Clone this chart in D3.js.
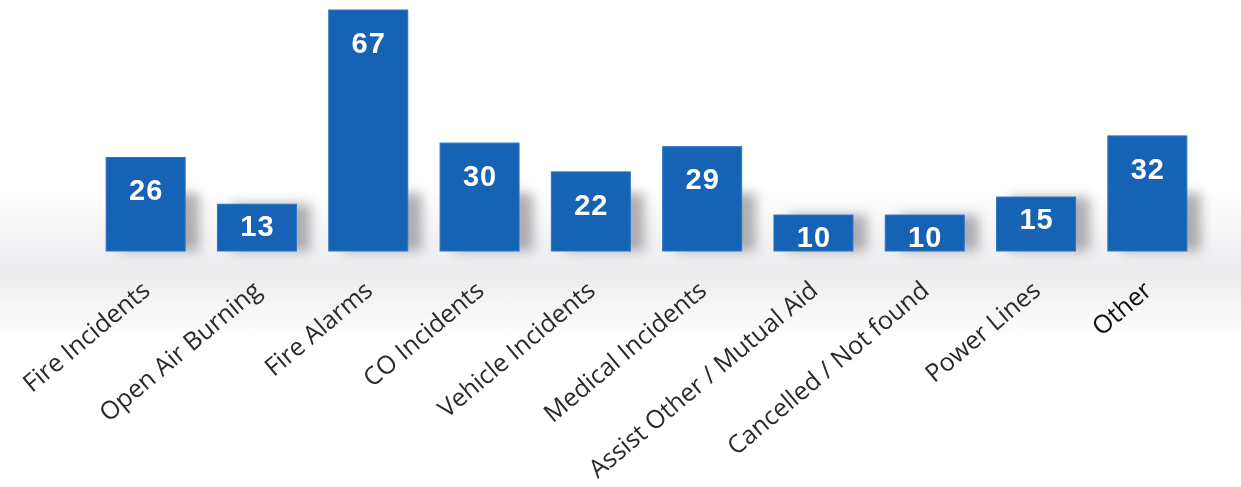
<!DOCTYPE html>
<html>
<head>
<meta charset="utf-8">
<script src="https://cdn.jsdelivr.net/npm/d3@7"></script>
<style>
  html, body { margin: 0; padding: 0; background: #ffffff; }
  svg { display: block; }
</style>
</head>
<body>
<svg id="chart" width="1241" height="487"></svg>
<script>
// Incident counts by call type
const categories = [
  "Fire Incidents", "Open Air Burning", "Fire Alarms", "CO Incidents",
  "Vehicle Incidents", "Medical Incidents", "Assist Other / Mutual Aid",
  "Cancelled / Not found", "Power Lines", "Other"
];
const counts = [26, 13, 67, 30, 22, 29, 10, 10, 15, 32];

const W = 1241, H = 487;
const baseline = 251, plotTop = 10;

const svg = d3.select("#chart");
const defs = svg.append("defs");

// soft grey floor band under the bars
const floor = defs.append("linearGradient")
  .attr("id", "floor").attr("x1", 0).attr("y1", 0).attr("x2", 0).attr("y2", 1);
floor.append("stop").attr("offset", "0%").attr("stop-color", "#ffffff");
floor.append("stop").attr("offset", "35%").attr("stop-color", "#f2f2f4");
floor.append("stop").attr("offset", "55%").attr("stop-color", "#ececee");
floor.append("stop").attr("offset", "100%").attr("stop-color", "#ffffff");

const blur = defs.append("filter").attr("id", "shadowBlur")
  .attr("x", "-50%").attr("y", "-50%").attr("width", "200%").attr("height", "200%");
blur.append("feGaussianBlur").attr("stdDeviation", 6);

const soft = defs.append("filter").attr("id", "soft");
soft.append("feGaussianBlur").attr("stdDeviation", 0.45);

svg.append("rect")
  .attr("x", 0).attr("y", 190).attr("width", W).attr("height", 150)
  .attr("fill", "url(#floor)");

const x = d3.scaleBand()
  .domain(categories)
  .range([90, 1203])
  .paddingInner(0.29)
  .paddingOuter(0.145);

const y = d3.scaleLinear()
  .domain([0, 67])
  .range([baseline, plotTop]);

const data = categories.map((c, i) => ({ cat: c, val: counts[i] }));

// drop shadows at the foot of each bar
svg.append("g")
  .selectAll("rect")
  .data(data)
  .join("rect")
  .attr("x", d => x(d.cat) + 14)
  .attr("y", d => Math.max(y(d.val), baseline - 58))
  .attr("width", x.bandwidth())
  .attr("height", d => baseline - Math.max(y(d.val), baseline - 58))
  .attr("fill", "#85858b")
  .attr("opacity", 0.65)
  .attr("filter", "url(#shadowBlur)");

// bars
svg.append("g")
  .attr("filter", "url(#soft)")
  .selectAll("rect")
  .data(data)
  .join("rect")
  .attr("x", d => x(d.cat))
  .attr("y", d => y(d.val))
  .attr("width", x.bandwidth())
  .attr("height", d => baseline - y(d.val))
  .attr("fill", "#1864b5")
  .attr("stroke", "#2b77c6")
  .attr("stroke-width", 1);

// value labels inside the bars
const valueSize = 29;
const capH = 0.716 * valueSize;
svg.append("g")
  .attr("filter", "url(#soft)")
  .selectAll("text")
  .data(data)
  .join("text")
  .attr("x", d => x(d.cat) + x.bandwidth() / 2 + 0.5)
  .attr("y", d => {
    const h = baseline - y(d.val);
    const inset = h >= 75 ? 22 : 11;
    return y(d.val) + inset + capH;
  })
  .attr("text-anchor", "middle")
  .attr("font-family", "'Liberation Sans', Arial, sans-serif")
  .attr("font-weight", "bold")
  .attr("font-size", valueSize)
  .attr("letter-spacing", 1)
  .attr("fill", "#ffffff")
  .text(d => d.val);

// rotated category labels
const xAxis = d3.axisBottom(x).tickSize(0).tickPadding(0);
const axisG = svg.append("g")
  .attr("transform", `translate(0,${baseline})`)
  .attr("filter", "url(#soft)")
  .call(xAxis);
axisG.select(".domain").remove();
axisG.selectAll(".tick text")
  .attr("font-family", "'Open Sans', sans-serif")
  .attr("font-size", 25)
  .attr("fill", d => d === "Other" ? "#0a0a0a" : "#2b2b2b")
  .attr("text-anchor", "end")
  .attr("dy", 0)
  .attr("y", 0)
  .attr("transform", "translate(6,42) rotate(-40)");
</script>
</body>
</html>
